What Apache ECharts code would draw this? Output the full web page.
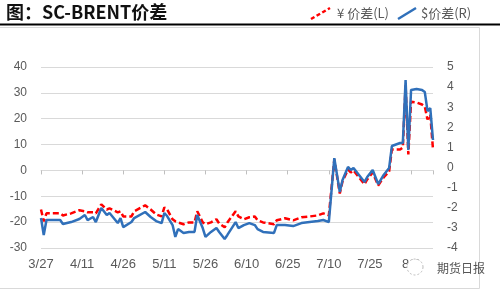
<!DOCTYPE html>
<html><head><meta charset="utf-8">
<script src="https://cdn.jsdelivr.net/npm/echarts@6/dist/echarts.min.js"></script>
<style>html,body{margin:0;padding:0;background:#fff}#c{width:500px;height:292px}</style>
</head><body><div id="c"></div>
<script>
// dates (2018, M/D)
const dates = ['3/27','3/28','3/29','4/2','4/3','4/4','4/7','4/10','4/12','4/13','4/15','4/16','4/18','4/20','4/21','4/24','4/25','4/26','4/29','4/30',
'5/4','5/6','5/8','5/10','5/11','5/12','5/14','5/15','5/16','5/18','5/20','5/22','5/23','5/25','5/26','5/28','5/30','5/31',
'6/2','6/3','6/6','6/7','6/9','6/11','6/13','6/14','6/16','6/20','6/21','6/24','6/27','6/30',
'7/3','7/6','7/8','7/10','7/12','7/14','7/15','7/17','7/18','7/19','7/21','7/23','7/24','7/26','7/28','7/30',
'8/1','8/2','8/5','8/6','8/7','8/8','8/9','8/11','8/13','8/14','8/15','8/16','8/17'];
// ¥ spread (left axis)
const cnySpread = [-15.1,-19.7,-16.6,-16.6,-16.6,-17.4,-16.6,-15.4,-15.8,-16.2,-16.2,-16.6,-13.1,-15.1,-14.7,-16.2,-15.8,-17.8,-17.8,-15.8,
-13.5,-15.1,-17.0,-17.8,-14.3,-15.1,-18.9,-19.7,-20.1,-20.8,-20.1,-20.1,-15.8,-20.1,-20.8,-20.1,-18.9,-20.5,
-22.0,-20.1,-15.8,-17.8,-18.9,-18.1,-17.8,-19.3,-20.1,-20.8,-19.3,-18.5,-19.3,-18.1,
-17.8,-17.4,-16.6,-17.4,4.2,-8.9,-4.2,0.4,-0.8,0.0,-2.7,-5.4,-3.5,-0.8,-5.8,-2.7,
-0.4,8.1,8.1,8.9,33,6.2,26.6,26.3,25.5,24.7,19.7,21.6,8.1];
// $ spread (right axis)
const usdSpread = [-2.51,-3.35,-2.61,-2.61,-2.61,-2.81,-2.71,-2.56,-2.36,-2.61,-2.46,-2.71,-2.01,-2.36,-2.26,-2.76,-2.51,-2.96,-2.71,-2.51,
-2.21,-2.46,-2.66,-2.76,-2.26,-2.41,-2.86,-3.45,-3.06,-3.25,-3.20,-3.20,-2.36,-3.01,-3.45,-3.20,-3.01,-3.20,
-3.55,-3.35,-2.71,-3.01,-2.86,-2.76,-2.86,-3.06,-3.20,-3.25,-2.86,-2.86,-2.91,-2.76,
-2.71,-2.66,-2.61,-2.71,0.47,-1.22,-0.62,0.03,-0.12,-0.02,-0.37,-0.72,-0.47,-0.12,-0.82,-0.37,
-0.02,1.07,1.22,1.22,4.35,0.87,3.86,3.91,3.86,3.76,2.81,2.96,1.37];
const xStart = '3/27', xEnd = '8/17';
const leftAxis = {min: -30, max: 40, step: 10};
const rightAxis = {min: -4, max: 5, step: 1};

const DAY = 86400000;
function toDay(s){ const [m,d] = s.split('/').map(Number); return Date.UTC(2018,m-1,d); }
const base = toDay(xStart);
const off = s => Math.round((toDay(s)-base)/DAY);
function lab(v){ const t = new Date(base + v*DAY); return (t.getUTCMonth()+1)+'/'+t.getUTCDate(); }

const gray = '#595959';
const chart = echarts.init(document.getElementById('c'), null, {renderer:'canvas'});
chart.setOption({
  animation:false,
  textStyle:{fontFamily:'Liberation Sans, Noto Sans CJK SC'},
  grid:{left:41,right:67,top:67,bottom:44},
  xAxis:[{
    type:'value',min:0,max:off(xEnd),interval:15,
    axisLine:{show:false},axisTick:{show:false},splitLine:{show:false},
    axisLabel:{formatter:lab,color:gray,fontSize:13,margin:10,showMaxLabel:false,showMinLabel:true}
  },{
    type:'value',min:0,max:off(xEnd),interval:15,position:'bottom',
    axisLine:{show:true,onZero:true,onZeroAxisIndex:0,lineStyle:{color:'#d9d9d9'}},
    axisTick:{show:true,length:4,lineStyle:{color:'#bfbfbf'}},
    axisLabel:{show:false},splitLine:{show:false}
  }],
  yAxis:[{
    type:'value',min:leftAxis.min,max:leftAxis.max,interval:leftAxis.step,
    axisLine:{show:false},axisTick:{show:false},
    splitLine:{lineStyle:{color:'#d9d9d9'}},
    axisLabel:{color:gray,fontSize:12,margin:14}
  },{
    type:'value',position:'right',min:rightAxis.min,max:rightAxis.max,interval:rightAxis.step,
    axisLine:{show:false},axisTick:{show:false},splitLine:{show:false},
    axisLabel:{color:gray,fontSize:12,margin:14}
  }],
  series:[{
    name:'¥ 价差(L)',type:'line',yAxisIndex:0,xAxisIndex:0,showSymbol:false,symbol:'none',
    data:dates.map((d,i)=>[off(d),cnySpread[i]]),
    lineStyle:{color:'#FF0000',width:2.5,type:[6,3]},itemStyle:{color:'#FF0000'}
  },{
    name:'$价差(R)',type:'line',yAxisIndex:1,xAxisIndex:0,showSymbol:false,symbol:'none',
    data:dates.map((d,i)=>[off(d),usdSpread[i]]),
    lineStyle:{color:'#3070BA',width:2.5},itemStyle:{color:'#3070BA'}
  }],
  graphic:[
    {type:'rect',shape:{x:-1,y:27.5,width:480.5,height:261},style:{fill:null,stroke:'#d9d9d9',lineWidth:1},z:-1},
    {type:'line',shape:{x1:0,y1:24.5,x2:500,y2:24.5},style:{stroke:'#000',lineWidth:2}},
    {type:'text',left:6,top:3,style:{text:'图：SC-BRENT价差',font:'bold 18px "Noto Sans CJK SC", sans-serif',fill:'#111'}},
    {type:'line',shape:{x1:311,y1:19,x2:330,y2:8},style:{stroke:'#FF0000',lineWidth:2.5,lineDash:[4,2.5]}},
    {type:'text',x:337,y:13.5,style:{text:'¥ 价差(L)',font:'13px "Noto Sans CJK SC", sans-serif',fill:gray,verticalAlign:'middle'}},
    {type:'line',shape:{x1:398,y1:19,x2:416,y2:8},style:{stroke:'#3070BA',lineWidth:2.5}},
    {type:'text',x:421,y:13.5,style:{text:'$价差(R)',font:'13px "Noto Sans CJK SC", sans-serif',fill:gray,verticalAlign:'middle'}},
    {type:'circle',shape:{cx:415,cy:267,r:8},style:{fill:'#fff',stroke:'#bbb',lineWidth:1,lineDash:[2,2]},z:10},
    {type:'text',x:437,y:268,style:{text:'期货日报',font:'12px "Noto Sans CJK SC", sans-serif',fill:'#555',verticalAlign:'middle'},z:10}
  ]
});
</script></body></html>
